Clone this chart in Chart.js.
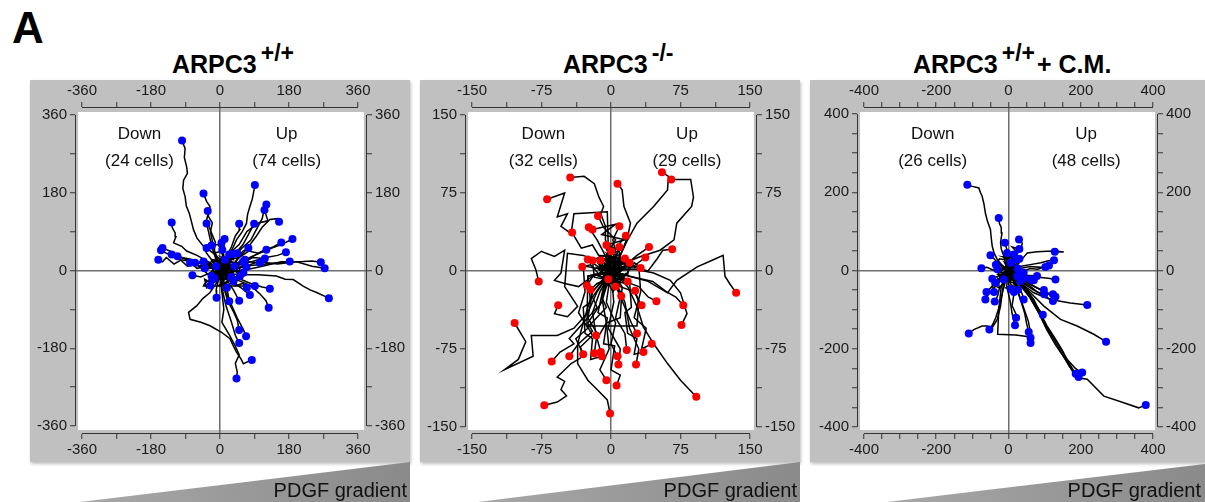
<!DOCTYPE html>
<html>
<head>
<meta charset="utf-8">
<script src="https://cdn.jsdelivr.net/npm/chart.js@4.4.1/dist/chart.umd.min.js"></script>
<style>
    body { margin: 0; background: #fff; }
    #page { position: relative; width: 1205px; height: 502px; overflow: hidden; font-family: "Liberation Sans", Arial, sans-serif; }
    .box { position: absolute; background: #c0c0c0; box-shadow: 1px 2px 3px rgba(0,0,0,0.25); }
    .box canvas { display: block; }
    .title { position: absolute; font-weight: bold; font-size: 25px; line-height: 25px; white-space: nowrap; color: #000; }
    .sup { font-size: 23px; position: relative; top: -12px; margin-left: 4px; margin-right: 2px; }
    .letter { position: absolute; left: 12px; top: 6px; font-weight: bold; font-size: 44px; line-height: 44px; }
    svg { position: absolute; left: 0; top: 0; }
</style>
</head>
<body>
<div id="page">
    <div class="letter">A</div>

    <div class="title" style="left:172px; top:52px">ARPC3<span class="sup">+/+</span></div>
    <div class="title" style="left:563px; top:52px">ARPC3<span class="sup">-/-</span></div>
    <div class="title" style="left:913px; top:52px">ARPC3<span class="sup">+/+</span>+ C.M.</div>

    <div class="box" style="left:30px; top:80px; width:380px; height:382px"><canvas id="chartWT" width="380" height="382"></canvas></div>
    <div class="box" style="left:420px; top:80px; width:380px; height:382px"><canvas id="chartKO" width="380" height="382"></canvas></div>
    <div class="box" style="left:810px; top:80px; width:395px; height:382px"><canvas id="chartCM" width="395" height="382"></canvas></div>

    <svg width="1205" height="502">
        <defs>
            <linearGradient id="wedge" x1="0" x2="1" y1="0" y2="0">
                <stop offset="0" stop-color="#a8a8a8"/>
                <stop offset="1" stop-color="#8a8a8a"/>
            </linearGradient>
        </defs>
        <polygon points="80,502 410,462 410,502" fill="url(#wedge)"/>
        <polygon points="478,502 800,462 800,502" fill="url(#wedge)"/>
        <polygon points="887,502 1205,464 1205,502" fill="url(#wedge)"/>
        <g font-family="Liberation Sans, Arial, sans-serif" font-size="20" fill="#111" text-anchor="end">
            <text x="407" y="497">PDGF gradient</text>
            <text x="797" y="497">PDGF gradient</text>
            <text x="1201" y="497">PDGF gradient</text>
        </g>
    </svg>
</div>

<script>
// Tick values for each panel (minor ticks + labelled ticks)
const ticksWT = [-360, -270, -180, -90, 0, 90, 180, 270, 360];
const labelsWT = [-360, -180, 0, 180, 360];
const ticksKO = [-150, -112.5, -75, -37.5, 0, 37.5, 75, 112.5, 150];
const labelsKO = [-150, -75, 0, 75, 150];
const ticksCM = [-400, -350, -300, -250, -200, -150, -100, -50, 0, 50, 100, 150, 200, 250, 300, 350, 400];
const labelsCM = [-400, -200, 0, 200, 400];

// Cell counts per side
const countsWT = { down: 24, up: 74 };
const countsKO = { down: 32, up: 29 };
const countsCM = { down: 26, up: 48 };

// Cell tracks (um), each starts at origin, last point = end position
const tracksWT = [
    [[0,-5],[-10,10],[-22,25],[-35,40],[-43,56],[-60,75],[-69,94],[-75,115],[-80,132],[-88,150],[-91,171],[-97,190],[-95,209],[-85,225],[-87,240],[-93,262],[-91,282],[-99,301]],
    [[5,0],[-5,20],[-15,45],[-12,65],[-22,87],[-28,100],[-35,117],[-30,135],[-26,148],[-35,160],[-43,178]],
    [[0,5],[-10,30],[-18,60],[-25,90],[-20,110],[-30,125],[-32,138]],
    [[5,5],[20,30],[35,55],[43,71],[58,90],[69,109],[72,130],[78,148],[84,165],[87,178],[91,198]],
    [[10,5],[30,25],[55,50],[80,70],[95,95],[110,120],[115,140],[121,153]],
    [[5,10],[25,40],[50,60],[70,90],[100,110],[125,115],[116,140]],
    [[10,0],[40,20],[70,50],[95,80],[110,100],[130,118],[150,120],[154,113]],
    [[0,0],[15,30],[30,55],[40,80],[52,95],[50,108]],
    [[10,10],[35,35],[60,60],[75,85],[89,108]],
    [[-5,5],[-30,20],[-60,35],[-87,45],[-100,56],[-121,64],[-115,78],[-117,87],[-125,100],[-126,111]],
    [[0,0],[-10,25],[-20,50],[-25,70],[-30,90],[-35,109]],
    [[0,0],[5,25],[10,50],[12,73]],
    [[10,5],[50,20],[90,35],[130,50],[160,60],[189,73]],
    [[5,0],[40,15],[80,30],[110,45],[140,55],[160,65]],
    [[0,5],[40,10],[80,20],[120,30],[150,35],[172,42]],
    [[-5,0],[-40,10],[-70,25],[-100,30],[-130,45],[-150,52]],
    [[0,-5],[-30,-10],[-60,15],[-85,10],[-110,30],[-140,40],[-154,47]],
    [[0,5],[-40,5],[-75,20],[-100,25],[-120,15],[-140,30],[-150,20],[-161,25]],
    [[-5,0],[-35,15],[-70,20],[-100,30],[-126,37]],
    [[0,0],[-30,10],[-60,5],[-85,25],[-111,33]],
    [[-5,5],[-30,15],[-55,10],[-78,18]],
    [[0,0],[-25,-5],[-50,-15],[-72,-11]],
    [[5,0],[60,10],[120,15],[182,21]],
    [[10,-5],[60,0],[110,10],[160,20],[217,21],[240,22],[263,19]],
    [[5,0],[50,5],[100,20],[150,15],[200,20],[240,10],[273,5]],
    [[5,-5],[50,-10],[100,-10],[147,-13],[170,-20],[191,-21],[217,-36],[235,-45],[252,-51],[284,-64]],
    [[5,-5],[40,-20],[80,-35],[105,-55],[120,-70],[127,-86]],
    [[0,0],[40,-15],[80,-30],[110,-38],[130,-42]],
    [[-5,-5],[-40,-30],[-43,-36],[0,-36],[50,-36],[91,-36]],
    [[5,-5],[30,-25],[55,-40],[78,-57]],
    [[0,0],[-5,-25],[-10,-45],[-9,-63]],
    [[0,-5],[10,-30],[20,-50],[24,-71]],
    [[5,0],[20,-25],[35,-45],[50,-70]],
    [[0,-5],[10,-40],[20,-70],[35,-95],[45,-115],[50,-138]],
    [[5,-5],[15,-50],[30,-80],[45,-110],[60,-135],[68,-152]],
    [[0,0],[5,-40],[15,-80],[30,-120],[40,-150],[50,-168]],
    [[0,-5],[-10,-30],[-26,-51],[-45,-65],[-61,-82],[-82,-97],[-78,-113],[-50,-120],[-26,-128],[4,-143],[26,-158],[35,-175],[43,-189],[55,-205],[61,-216],[83,-207]],
    [[0,-10],[5,-50],[10,-90],[5,-120],[25,-150],[40,-175],[50,-195],[40,-215],[45,-235],[43,-250]],
    [[0,0],[8,10],[-4,22],[10,35],[6,48]],
    [[0,0],[-8,12],[4,18],[-10,10]],
    [[0,0],[-12,4],[-6,-10],[-22,-13]],
    [[0,0],[6,-12],[-8,-8],[-15,-18]],
    [[0,0],[-6,18],[12,30],[0,45],[4,64]],
    [[0,0],[15,5],[10,25],[28,28],[35,39]],
    [[0,0],[20,15],[35,10],[50,35],[60,45],[74,52]],
    [[0,0],[15,-8],[30,12],[50,15],[65,25]],
    [[0,0],[25,15],[50,5],[75,20],[104,18]],
    [[0,0],[30,20],[55,15],[85,30],[117,28]],
    [[0,0],[20,25],[50,30],[75,45],[100,40],[121,48]],
    [[0,0],[20,-15],[40,0],[61,-5]],
    [[0,0],[10,-20],[25,-15],[35,-25]],
    [[0,0],[-5,15],[15,20],[24,37]],
    [[0,0],[10,5],[2,15],[13,25]],
    [[0,0],[20,12],[45,-5],[69,8]],
    [[0,0],[-15,12],[-10,35],[-35,52]],
    [[0,0],[-15,-5],[-25,15],[-43,21]],
    [[0,0],[-20,8],[-40,0],[-50,20],[-65,18]],
    [[0,0],[-5,-12],[-12,-5],[-19,-21]],
    [[0,0],[12,-6],[20,5],[29,-15]],
    [[0,0],[20,-15],[35,5],[52,-13]],
    [[0,0],[15,8],[-10,15],[20,-10],[-15,-12],[25,15],[5,30],[30,20],[38,10]],
    [[0,0],[-15,10],[10,-15],[-25,-5],[5,20],[-20,25],[-30,10],[-40,5]],
    [[0,0],[10,-20],[-10,-15],[15,-30],[-5,-35],[20,-25],[10,-45],[18,-40]],
    [[0,0],[20,10],[35,-10],[15,-20],[40,5],[55,-5],[45,15],[60,20]],
    [[0,0],[-10,-20],[-30,-10],[-20,-30],[-40,-20],[-35,-40],[-25,-35]],
    [[0,0],[5,15],[25,10],[15,30],[35,25],[30,45],[45,40]],
    [[0,0],[-20,20],[0,25],[-15,40],[5,45],[-5,60],[-22,58]],
    [[0,0],[25,-5],[20,-25],[45,-20],[40,-35],[60,-30],[70,-40]]
];

const tracksKO = [
    [[0,0],[-5,15],[-2,22],[-6,30],[-6,43],[-11,55],[-8,62],[-13,71],[-18,84],[-29,91],[-44,90]],
    [[0,0],[-3,25],[-4,57],[-40,55],[-43,36],[-54,43],[-47,55],[-58,52],[-50,75],[-69,69]],
    [[0,0],[10,15],[18,33],[21,46],[14,62],[12,78],[7,84]],
    [[0,0],[15,8],[32,14],[53,20],[68,30],[71,46],[87,62],[89,71],[86,88],[65,88]],
    [[0,0],[10,15],[18,30],[28,46],[46,62],[61,78],[62,91],[55,95]],
    [[0,0],[-5,15],[5,30],[-8,42],[-14,53]],
    [[0,0],[-10,10],[-20,25],[-32,22],[-42,37]],
    [[0,0],[-8,18],[-15,30],[-24,42]],
    [[0,0],[6,15],[2,30],[9,43]],
    [[0,0],[10,12],[8,25],[16,34]],
    [[0,0],[15,5],[28,15],[41,23]],
    [[0,0],[20,5],[40,0],[50,12],[56,20],[66,21]],
    [[0,0],[12,8],[25,5],[37,13]],
    [[0,0],[15,-5],[25,8],[32,3]],
    [[0,0],[-5,8],[5,12],[0,19]],
    [[0,0],[-4,6],[-11,10]],
    [[0,0],[-12,-4],[-22,6],[-31,4]],
    [[0,0],[-10,-6],[-18,-3],[-26,-14]],
    [[0,0],[-8,-10],[-15,-12],[-22,-18]],
    [[0,0],[-20,-5],[-35,-15],[-50,-12],[-61,-9],[-54,-2],[-50,20],[-61,14],[-70,17],[-75,19],[-86,12],[-81,1],[-78,-10]],
    [[0,0],[-15,10],[-30,15],[-47,17],[-50,-15],[-36,-34],[-47,-44],[-61,-41],[-57,-33]],
    [[0,0],[-15,-20],[-25,-40],[-40,-55],[-58,-62],[-86,-62],[-84,-82],[-115,-95],[-100,-85],[-92,-68],[-104,-50]],
    [[0,0],[-20,-25],[-15,-35],[-30,-50],[-45,-65],[-40,-70],[-55,-78],[-64,-87]],
    [[0,0],[-10,-30],[-25,-50],[-20,-58],[-35,-70],[-45,-82]],
    [[0,0],[-10,-25],[-5,-35],[-25,-54],[-20,-62],[-33,-73],[-30,-82],[-43,-89],[-58,-102],[-50,-106],[-54,-114],[-48,-120],[-58,-126],[-72,-129]],
    [[0,0],[-20,-20],[-30,-50],[-36,-70],[-36,-89],[-25,-105],[-15,-114],[-4,-124],[-1,-137]],
    [[0,0],[10,-8],[18,-15],[28,-34],[35,-54],[46,-70],[61,-89],[75,-105],[92,-121]],
    [[0,0],[25,2],[46,-2],[64,-9],[75,-21],[82,-41],[76,-52]],
    [[0,0],[20,-5],[45,-10],[60,-20],[70,-25],[78,-33]],
    [[0,0],[15,-10],[30,-15],[40,-25],[49,-29]],
    [[0,0],[10,-15],[25,-20],[33,-33]],
    [[0,0],[5,-10],[8,-18],[11,-24]],
    [[0,0],[-25,-5],[-26,-53],[28,-53],[30,-30],[26,-19]],
    [[0,0],[20,-5],[40,-10],[61,-21],[71,-9],[93,4],[111,11],[121,15],[123,-5],[128,-12],[135,-21]],
    [[0,0],[8,-20],[15,-35],[22,-50],[28,-60]],
    [[0,0],[10,-25],[5,-45],[15,-60],[17,-76]],
    [[0,0],[-5,-30],[5,-50],[0,-70],[7,-82]],
    [[0,0],[3,-30],[-3,-55],[10,-75],[8,-90]],
    [[0,0],[15,-30],[20,-55],[30,-75],[27,-90]],
    [[0,0],[-10,-25],[-5,-50],[-15,-65],[-11,-78]],
    [[0,0],[-20,-20],[-25,-45],[-15,-60],[-18,-79]],
    [[0,0],[-12,-20],[-20,-40],[-16,-62]],
    [[0,0],[5,10],[9,23]],
    [[0,0],[-12,3],[-25,11]],
    [[0,0],[10,-5],[18,-10]],
    [[0,0],[10,8],[-8,12],[12,-6],[-10,-10],[6,15],[-4,20],[8,5],[15,12]],
    [[0,0],[-12,6],[8,-12],[-15,-4],[4,10],[-6,-16],[12,2],[-3,-8]],
    [[0,0],[14,-6],[-6,-14],[10,16],[-14,8],[2,-20],[16,-2],[5,-15]],
    [[0,0],[8,6],[-6,10],[10,-8],[-9,-6],[12,12],[-12,15],[5,-14],[-15,3],[18,-4],[20,8]],
    [[0,0],[-10,5],[6,-10],[-14,-12],[12,4],[-4,16],[16,-12],[-18,-6],[-20,10]],
    [[0,0],[5,-10],[-10,4],[14,10],[-8,-16],[18,6],[-16,12],[10,20],[-5,25]],
    [[0,0],[-25,-5],[-22,-30],[-30,-35],[-28,-60],[-20,-65],[-22,-85],[-10,-82]],
    [[0,0],[20,-10],[22,-35],[15,-40],[18,-60],[28,-65],[25,-80],[35,-78]],
    [[0,0],[-8,-15],[-14,-40],[-4,-45],[-8,-70],[4,-72],[0,-95],[10,-100],[6,-110]],
    [[0,0],[12,-15],[10,-45],[-5,-50],[-2,-75],[-12,-95],[-5,-105]],
    [[0,0],[-30,5],[-28,-20],[-35,-40],[-25,-55],[-38,-65],[-30,-80]],
    [[0,0],[30,5],[32,-20],[25,-45],[38,-55],[33,-75],[44,-70]],
    [[0,0],[-5,25],[15,30],[-10,35],[5,45],[-20,40]]
];

const tracksCM = [
    [[0,0],[-15,10],[-31,28],[-40,45],[-45,62],[-48,85],[-50,105],[-58,125],[-64,147],[-68,170],[-73,190],[-78,200],[-82,211],[-100,215],[-114,219]],
    [[0,0],[-8,15],[-13,37],[-20,55],[-22,71],[-18,96],[-20,110],[-25,120],[-27,134]],
    [[0,0],[-5,20],[5,40],[-5,55],[-10,71]],
    [[0,0],[10,20],[20,40],[35,55],[38,70],[29,79]],
    [[0,0],[-15,10],[-30,20],[-40,30],[-50,39]],
    [[0,0],[-20,5],[-40,0],[-60,8],[-75,6]],
    [[0,0],[25,15],[52,45],[80,48],[107,49],[130,50],[153,47],[128,48]],
    [[0,0],[30,10],[60,15],[90,20],[110,25],[126,26]],
    [[0,0],[30,5],[60,10],[90,8],[112,13]],
    [[0,0],[30,-5],[60,5],[80,3],[102,9]],
    [[0,0],[30,-10],[60,-15],[90,-18],[110,-20],[130,-23]],
    [[0,0],[25,-5],[50,-12],[79,-14]],
    [[0,0],[15,-10],[30,-12],[42,-19]],
    [[0,0],[10,-15],[25,-20],[33,-27]],
    [[0,0],[-15,-5],[-30,-15],[-45,-21]],
    [[0,0],[-20,-15],[-35,-30],[-50,-45],[-61,-55]],
    [[0,0],[-20,-25],[-40,-45],[-55,-60],[-64,-74]],
    [[0,0],[-10,-25],[-25,-45],[-30,-65],[-38,-79]],
    [[0,0],[5,-20],[0,-35],[6,-47]],
    [[0,0],[10,-20],[20,-35],[26,-49]],
    [[0,0],[15,-25],[30,-45],[38,-60],[42,-74]],
    [[0,0],[30,-20],[60,-35],[80,-45],[98,-50]],
    [[0,0],[30,-25],[60,-40],[80,-55],[99,-61]],
    [[0,0],[35,-20],[70,-40],[100,-55],[123,-61]],
    [[0,0],[40,-25],[80,-45],[110,-60],[130,-67]],
    [[0,0],[35,-30],[70,-50],[100,-65],[123,-78]],
    [[0,0],[30,-30],[70,-57],[116,-74],[171,-83],[218,-88]],
    [[0,0],[30,-30],[55,-55],[70,-80],[85,-100],[95,-113]],
    [[0,0],[5,-30],[15,-60],[10,-90],[20,-110],[21,-121]],
    [[0,0],[-5,-40],[5,-80],[10,-110],[18,-140]],
    [[0,0],[20,-40],[35,-80],[45,-110],[50,-135],[56,-157]],
    [[0,0],[25,-50],[40,-90],[55,-130],[60,-155],[61,-172]],
    [[0,0],[-20,-40],[-27,-100],[-30,-163],[20,-165],[61,-170],[61,-185]],
    [[0,0],[-15,-40],[-22,-91],[-31,-125],[-45,-146],[-60,-142],[-73,-142],[-96,-151],[-110,-161]],
    [[0,0],[-15,-50],[-25,-90],[-35,-120],[-45,-140],[-53,-151]],
    [[0,0],[30,-30],[61,-57],[98,-91],[144,-125],[190,-142],[236,-163],[270,-182]],
    [[0,0],[20,-20],[42,-40],[70,-74],[88,-108],[107,-142],[125,-168],[148,-202],[167,-236],[186,-264]],
    [[0,0],[25,-30],[50,-55],[75,-90],[95,-130],[115,-160],[140,-200],[165,-240],[180,-262],[194,-272]],
    [[0,0],[30,-35],[60,-70],[85,-110],[110,-150],[135,-185],[160,-225],[185,-250],[204,-261]],
    [[0,0],[30,-30],[60,-70],[85,-110],[105,-150],[130,-190],[160,-230],[190,-274],[218,-278],[264,-321],[319,-338],[360,-351],[380,-344]],
    [[0,0],[-10,20],[10,30],[15,41]],
    [[0,0],[15,8],[10,20],[24,28]],
    [[0,0],[-8,10],[6,20]],
    [[0,0],[-15,10],[-20,-5],[-31,3]],
    [[0,0],[-5,-12],[-13,-23]],
    [[0,0],[-20,-10],[-25,-25],[-36,-31]],
    [[0,0],[20,8],[30,-10],[42,-6]],
    [[0,0],[25,-5],[45,-20],[61,-23]],
    [[0,0],[12,-10],[24,-14]],
    [[0,0],[10,15],[-8,30],[-4,45]],
    [[0,0],[-20,15],[15,-20],[-25,-15],[20,25],[-10,-30],[25,5]],
    [[0,0],[15,10],[-10,20],[20,-10],[-20,-15],[25,20],[-15,35],[30,30]],
    [[0,0],[-20,10],[15,-20],[-30,-10],[10,25],[-25,30],[-35,15]],
    [[0,0],[10,-25],[-15,-20],[20,-35],[-10,-45],[25,-40],[15,-55]],
    [[0,0],[25,5],[40,-15],[20,-30],[45,-10],[60,-30],[70,-25]],
    [[0,0],[-10,-30],[-30,-20],[-25,-45],[-45,-35],[-40,-55]],
    [[0,0],[20,25],[0,40],[25,45],[10,60],[30,55]]
];

Chart.defaults.font.family = '"Liberation Sans", Arial, sans-serif';
Chart.defaults.color = '#111';

// Draws white plot area, axis lines and the Down / Up labels
const panelDecor = {
    id: 'panelDecor',
    beforeDraw(chart) {
        const { ctx, chartArea: a } = chart;
        ctx.save();
        ctx.fillStyle = '#fff';
        ctx.fillRect(a.left + 3, a.top + 5, a.width - 6, a.height - 9);
        ctx.restore();
    },
    afterDraw(chart, args, opts) {
        const { ctx, chartArea: a, scales } = chart;
        const L = opts.range;
        const xa = scales.x.getPixelForValue(-L), xb = scales.x.getPixelForValue(L);
        const ya = scales.y.getPixelForValue(L), yb = scales.y.getPixelForValue(-L);
        ctx.save();
        ctx.strokeStyle = '#333';
        ctx.lineWidth = 1;
        ctx.beginPath();
        ctx.moveTo(xa, a.top + 0.5); ctx.lineTo(xb, a.top + 0.5);
        ctx.moveTo(xa, a.bottom - 0.5); ctx.lineTo(xb, a.bottom - 0.5);
        ctx.moveTo(a.left + 0.5, ya); ctx.lineTo(a.left + 0.5, yb);
        ctx.moveTo(a.right - 0.5, ya); ctx.lineTo(a.right - 0.5, yb);
        ctx.stroke();

        ctx.fillStyle = '#111';
        ctx.font = '17px "Liberation Sans", Arial, sans-serif';
        ctx.textAlign = 'center';
        ctx.textBaseline = 'middle';
        const dx = scales.x.getPixelForValue(opts.downX);
        const ux = scales.x.getPixelForValue(opts.upX);
        ctx.fillText('Down', dx, a.top + 27);
        ctx.fillText('(' + opts.counts.down + ' cells)', dx, a.top + 54);
        ctx.fillText('Up', ux, a.top + 27);
        ctx.fillText('(' + opts.counts.up + ' cells)', ux, a.top + 54);
        ctx.restore();
    }
};

function buildDatasets(tracks, dotColor) {
    const ends = {
        data: tracks.map(t => ({ x: t[t.length - 1][0], y: t[t.length - 1][1] })),
        backgroundColor: dotColor,
        borderWidth: 0,
        pointRadius: 4,
        showLine: false,
        order: -1
    };
    const lines = tracks.map(t => ({
        data: t.map(p => ({ x: p[0], y: p[1] })),
        showLine: true,
        borderColor: '#000',
        borderWidth: 1.5,
        pointRadius: 0,
        tension: 0,
        order: 1
    }));
    return [ends].concat(lines);
}

function makeScale(position, min, max, tickVals, labelVals, size, onArea) {
    const vertical = position === 'left' || position === 'right';
    return {
        type: 'linear',
        position: position,
        min: min,
        max: max,
        afterBuildTicks: scale => { scale.ticks = tickVals.map(v => ({ value: v })); },
        afterFit: scale => { if (vertical) scale.width = size; else scale.height = size; },
        border: { display: false },
        grid: {
            drawOnChartArea: onArea,
            color: c => (c.tick && c.tick.value === 0) ? '#6e6e6e' : 'rgba(0,0,0,0)',
            lineWidth: 1.5,
            tickColor: '#333',
            tickWidth: 1,
            tickLength: 5
        },
        ticks: {
            autoSkip: false,
            maxRotation: 0,
            padding: vertical ? 3 : 2,
            color: '#1a1a1a',
            font: { size: 15 },
            callback: v => labelVals.includes(v) ? String(v) : ''
        }
    };
}

function drawPanel(id, p) {
    const canvas = document.getElementById(id);
    const W = canvas.width, H = canvas.height;
    const caW = W - p.left - p.right;
    const caH = H - p.top - p.bottom;
    const kx = (caW - p.padX[0] - p.padX[1]) / (2 * p.range);
    const ky = (caH - p.padY[0] - p.padY[1]) / (2 * p.range);
    const xMin = -p.range - p.padX[0] / kx, xMax = p.range + p.padX[1] / kx;
    const yMin = -p.range - p.padY[1] / ky, yMax = p.range + p.padY[0] / ky;

    new Chart(canvas, {
        type: 'scatter',
        data: { datasets: buildDatasets(p.tracks, p.dot) },
        options: {
            responsive: false,
            animation: false,
            layout: { padding: 0 },
            plugins: {
                legend: { display: false },
                tooltip: { enabled: false },
                panelDecor: { range: p.range, downX: p.downX, upX: p.upX, counts: p.counts }
            },
            scales: {
                x: makeScale('bottom', xMin, xMax, p.ticks, p.labels, p.bottom, true),
                x2: makeScale('top', xMin, xMax, p.ticks, p.labels, p.top, false),
                y: makeScale('left', yMin, yMax, p.ticks, p.labels, p.left, true),
                y2: makeScale('right', yMin, yMax, p.ticks, p.labels, p.right, false)
            }
        },
        plugins: [panelDecor]
    });
}

drawPanel('chartWT', {
    tracks: tracksWT, dot: '#0000ff', range: 360, ticks: ticksWT, labels: labelsWT,
    left: 45, right: 43, top: 27, bottom: 28, padX: [7, 9], padY: [8, 8],
    downX: -210, upX: 174, counts: countsWT
});
drawPanel('chartKO', {
    tracks: tracksKO, dot: '#ff0000', range: 150, ticks: ticksKO, labels: labelsKO,
    left: 45, right: 43, top: 27, bottom: 28, padX: [7, 7], padY: [8, 7],
    downX: -73, upX: 82, counts: countsKO
});
drawPanel('chartCM', {
    tracks: tracksCM, dot: '#0000ff', range: 400, ticks: ticksCM, labels: labelsCM,
    left: 47, right: 47, top: 27, bottom: 28, padX: [7, 5], padY: [7, 7],
    downX: -210, upX: 215, counts: countsCM
});
</script>
</body>
</html>
